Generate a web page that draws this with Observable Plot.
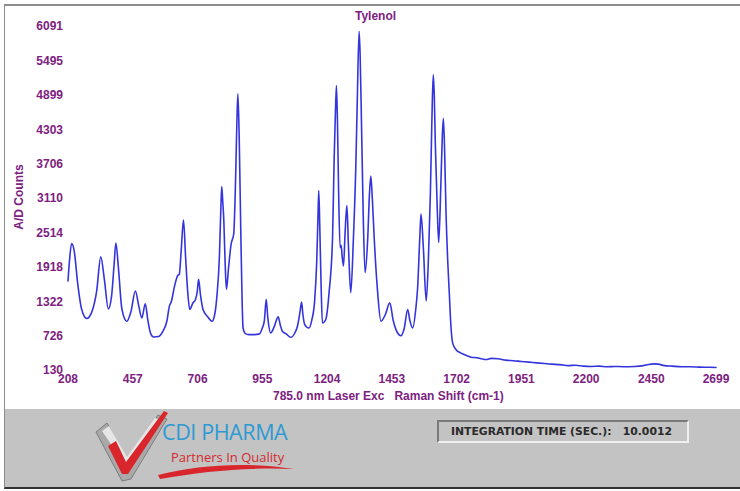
<!DOCTYPE html>
<html>
<head>
<meta charset="utf-8">
<script src="https://cdn.jsdelivr.net/npm/d3@7"></script>
<script src="https://cdn.jsdelivr.net/npm/@observablehq/plot@0.6"></script>
<style>
  html, body { margin: 0; padding: 0; background: #fff; }
  #page { position: relative; width: 740px; height: 491px; overflow: hidden; background: #fff; font-family: "Liberation Sans", Arial, sans-serif; }
  #chart { position: absolute; left: 0; top: 0; }
  .lbl { position: absolute; color: #7d2181; font-weight: bold; font-size: 12px; white-space: pre; line-height: 12px; }
  #frame { position: absolute; left: 4px; top: 4px; width: 736px; height: 485px; box-sizing: border-box;
           border-top: 2px solid #8c8c8c; border-left: 1px solid #8c8c8c; border-bottom: 2px solid #333; pointer-events: none; }
  #footer { position: absolute; left: 5px; top: 409px; width: 735px; height: 78px; background: #c3c3c3; }
  #integ { position: absolute; left: 437px; top: 420px; width: 252px; height: 23px; box-sizing: border-box;
           border: 2px solid; border-color: #7a7a7a #efefef #efefef #7a7a7a; background: #c3c3c3;
           font-family: "DejaVu Sans", Verdana, sans-serif; font-weight: bold; font-size: 10.8px; color: #2a2a2a;
           white-space: pre; line-height: 19px; padding-left: 12px; }
  #cdi { position: absolute; left: 162px; top: 422px; font-family: "Open Sans", sans-serif; font-size: 21.5px; color: #2c9ad4; line-height: 20px; letter-spacing: -0.4px; white-space: pre; }
  #piq { position: absolute; left: 171px; top: 450px; font-family: "Open Sans", sans-serif; font-size: 13px; color: #d42a2e; line-height: 14px; white-space: pre; }
  #logo { position: absolute; left: 0; top: 0; }
</style>
</head>
<body>
<div id="page">
  <div id="footer"></div>
  <div id="chart"></div>
  <div class="lbl" style="left:355px; top:10px;">Tylenol</div>
  <div class="lbl" style="left:-14px; top:191px; width:66px; text-align:center; transform: rotate(-90deg);">A/D Counts</div>
  <div class="lbl" style="left:273px; top:390px;">785.0 nm Laser Exc   Raman Shift (cm-1)</div>
  <svg id="logo" width="740" height="491">
    <path d="M96,432 L107,423 L128,461 L158,415 L167,419 L131,479 L122,481 Z" fill="#a9a9a9" stroke="#7d7d7d" stroke-width="1"/>
    <path d="M102,431 L109,426 L127,457 L155,418 L160,420 L128,469 Z" fill="#e6e6e6"/>
    <path d="M108,446 L116,441 L126,462 L164,411 L168,413 L128,474 L122,474 Z" fill="#d8262c"/>
    <path d="M158,475 C200,464 250,462 294,469 C250,467 205,471 160,479 Z" fill="#d8262c"/>
  </svg>
  <div id="cdi">CDI PHARMA</div>
  <div id="piq">Partners In Quality</div>
  <div id="integ">INTEGRATION TIME (SEC.):   10.0012</div>
  <div id="frame"></div>
</div>
<script>
const ramanShift = [208,214,222,232,245,260,280,300,318,334,348,363,375,385,392,402,415,434,450,467,480,492,505,515,525,537,556,575,588,598,605,618,629,636,643,652,660,668,676,688,698,705,710,717,727,745,762,772,781,790,796,799,803,807,812,817,825,835,845,852,857,861,866,872,877,881,890,903,925,942,955,963,970,976,987,1000,1016,1024,1032,1048,1064,1080,1090,1100,1106,1111,1118,1134,1145,1156,1164,1169,1172,1176,1181,1186,1199,1212,1225,1231,1236,1240,1244,1248,1254,1258,1262,1267,1273,1280,1286,1295,1305,1314,1320,1327,1331,1336,1343,1350,1360,1367,1372,1378,1385,1398,1411,1428,1445,1458,1475,1488,1500,1514,1522,1533,1545,1552,1560,1565,1574,1585,1593,1601,1607,1612,1616,1620,1627,1633,1641,1647,1651,1656,1661,1668,1674,1680,1687,1700,1719,1740,1758,1780,1796,1815,1835,1861,1890,1920,1950,1980,2010,2040,2066,2100,2130,2160,2190,2220,2250,2280,2310,2340,2387,2420,2440,2460,2477,2500,2530,2567,2600,2640,2670,2699];
const adCounts = [1681,2050,2331,2200,1650,1200,1031,1150,1500,2099,1700,1198,1400,1950,2338,1900,1200,984,1150,1507,1250,1041,1285,1000,780,710,718,830,984,1250,1320,1600,1768,1800,2200,2739,2100,1500,1188,1300,1362,1500,1711,1450,1188,1060,984,1100,1449,2100,3000,3319,3050,2727,2000,1536,1900,2320,2495,3400,4400,4923,4200,2600,1400,867,770,752,752,760,867,1000,1362,1050,780,880,1059,920,810,760,705,780,897,1150,1315,1100,926,867,1000,1333,2000,2800,3250,2600,1600,954,1014,1500,2436,3772,4600,5067,4400,3300,2261,2300,2100,1942,2500,2988,2300,1477,2400,3598,4800,6008,5600,4470,2800,1826,2400,3200,3499,3100,2436,1500,984,1100,1303,1000,780,733,850,1188,1000,867,1200,1564,2400,2843,2261,1333,2000,3192,4500,5254,4900,4063,3000,2348,3300,4200,4499,3900,2901,2000,1449,900,600,491,431,390,360,350,335,320,340,333,310,300,287,275,262,250,240,232,215,222,205,200,205,195,200,196,200,215,235,245,240,215,205,194,195,188,186,182];
const xTicks = [208,457,706,955,1204,1453,1702,1951,2200,2450,2699];
const yTicks = [130,726,1322,1918,2514,3110,3706,4303,4899,5495,6091];

const data = ramanShift.map((x, i) => ({x, y: adCounts[i]}));

const chart = Plot.plot({
  width: 740,
  height: 410,
  marginLeft: 67.5,
  marginRight: 24.5,
  marginTop: 26,
  marginBottom: 40,
  style: {fontFamily: "'Liberation Sans', Arial, sans-serif", fontSize: "12px", fontWeight: "bold", color: "#7d2181", background: "transparent", overflow: "visible"},
  x: {domain: [208, 2699], ticks: xTicks, tickSize: 0, tickPadding: 4, label: null, tickFormat: d => String(d)},
  y: {domain: [130, 6091], ticks: yTicks, tickSize: 0, tickPadding: 5, label: null, tickFormat: d => String(d)},
  marks: [
    Plot.line(data, {x: "x", y: "y", stroke: "#3434dc", strokeWidth: 1.6, curve: "monotone-x"})
  ]
});
document.getElementById("chart").appendChild(chart);
</script>
</body>
</html>
